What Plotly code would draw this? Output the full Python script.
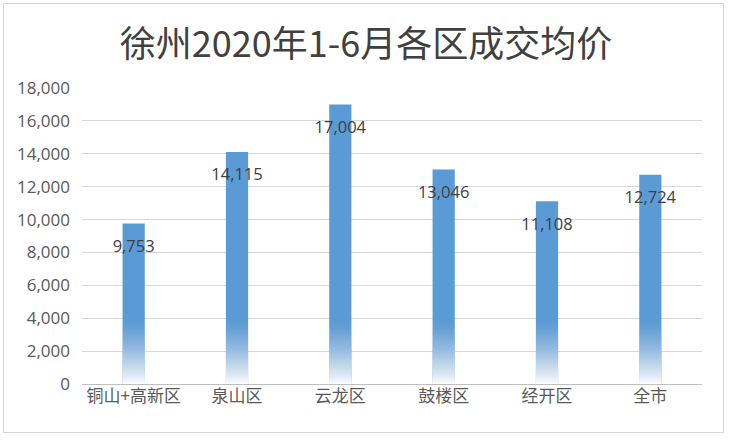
import plotly.graph_objects as go

# ---- data ----
categories = ["铜山+高新区", "泉山区", "云龙区", "鼓楼区", "经开区", "全市"]
avg_price = [9753, 14115, 17004, 13046, 11108, 12724]
tick_vals = [0, 2000, 4000, 6000, 8000, 10000, 12000, 14000, 16000, 18000]
title_text = "徐州2020年1-6月各区成交均价"

# ---- style ----
W, H = 741, 442
PX_L, PX_R, PX_T, PX_B = 82, 702, 88, 384
ML, MT, MR, MB = PX_L, PX_T, W - PX_R, H - PX_B
BAR_W = 0.215
BLUE = "#5b9bd5"
FADE_TOP = 3800       # value where the bottom fade starts
FADE_LAYERS = 36
FADE_MAX = 0.97       # whiteness at the very bottom
FADE_EXP = 1.3

fig = go.Figure()

fig.add_trace(go.Bar(
    x=categories, y=avg_price, width=BAR_W,
    marker=dict(color=BLUE, line=dict(width=0)),
    hoverinfo="skip", showlegend=False,
))

# white overlays to create a smooth bottom fade (style only)
prev_w = 0.0
for k in range(1, FADE_LAYERS + 1):
    frac = k / FADE_LAYERS                 # 0 at top of fade, 1 at bottom
    h = FADE_TOP * (1 - (k - 1) / FADE_LAYERS)
    w = FADE_MAX * frac ** FADE_EXP
    a = 1 - (1 - w) / (1 - prev_w)
    prev_w = w
    fig.add_trace(go.Bar(
        x=categories, y=[min(h, v) for v in avg_price], width=BAR_W,
        marker=dict(color="white", line=dict(width=0)), opacity=round(a, 3),
        hoverinfo="skip", showlegend=False,
    ))

# data labels
fig.add_trace(go.Scatter(
    x=categories, y=avg_price, mode="markers+text",
    text=[f"{v:,}" for v in avg_price], textposition="bottom center",
    marker=dict(size=24, opacity=0),
    textfont=dict(family="Open Sans, Noto Sans CJK SC", size=16.5, color="#404040"),
    hoverinfo="skip", showlegend=False,
))

plot_w = PX_R - PX_L
plot_h = PX_B - PX_T
fig.add_shape(
    type="rect", xref="paper", yref="paper",
    x0=(3.5 - PX_L) / plot_w, x1=(723.5 - PX_L) / plot_w,
    y0=(PX_B - 432.5) / plot_h, y1=(PX_B - 3.5) / plot_h,
    line=dict(color="#d4d4d4", width=1), fillcolor="rgba(0,0,0,0)", layer="below",
)

fig.update_layout(
    width=W, height=H,
    margin=dict(l=ML, r=MR, t=MT, b=MB),
    paper_bgcolor="white", plot_bgcolor="white",
    barmode="overlay",
    hovermode=False,
    title=dict(
        text=title_text, x=366 / W, xref="container", xanchor="center",
        y=1 - 44 / H, yref="container", yanchor="middle",
        font=dict(family="Noto Sans CJK SC", size=36, color="#404040"),
    ),
    xaxis=dict(
        type="category", showgrid=False, showline=False, ticks="",
        tickfont=dict(family="Noto Sans CJK SC", size=17, color="#595959"),
        range=[-0.5, len(categories) - 0.5],
    ),
    yaxis=dict(
        range=[0, 18000], tickvals=tick_vals, tickformat=",",
        showgrid=True, gridcolor="#d9d9d9", gridwidth=1,
        zeroline=True, zerolinecolor="#bfbfbf", zerolinewidth=1,
        showline=False, ticks="", ticklabelstandoff=11,
        tickfont=dict(family="Open Sans", size=17, color="#595959"),
    ),
    font=dict(family="Noto Sans CJK SC"),
)

fig.write_html(
    "out.html",
    config={"displayModeBar": False},
    post_script="document.body.style.margin='0px';",
)
